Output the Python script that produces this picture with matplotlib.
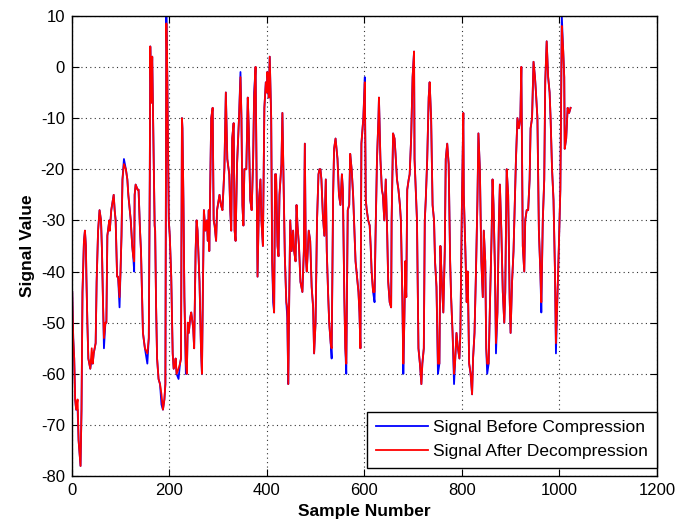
import numpy as np
import matplotlib
matplotlib.use("Agg")
import matplotlib.pyplot as plt

# sample positions and values
samples = [
    1, 3, 5, 7, 9, 12, 14, 18, 20, 22, 25, 27, 29, 30, 32, 34, 38, 41, 43, 45,
    49, 51, 54, 57, 60, 62, 64, 66, 69, 71, 73, 77, 78, 81, 86, 88, 90, 93, 95, 98,
    100, 102, 104, 107, 111, 114, 116, 121, 124, 126, 128, 129, 131, 135, 137, 140, 142, 144, 146, 150,
    155, 158, 160, 161, 163, 165, 168, 170, 171, 173, 175, 178, 181, 184, 187, 190, 192, 194, 196, 198,
    199, 201, 204, 207, 209, 212, 213, 215, 219, 222, 224, 226, 227, 229, 231, 234, 236, 238, 240, 243,
    245, 249, 251, 254, 256, 258, 262, 265, 267, 269, 271, 274, 277, 279, 281, 282, 286, 289, 291, 293,
    296, 298, 303, 306, 309, 313, 316, 319, 323, 325, 327, 329, 332, 334, 336, 339, 343, 346, 348, 350,
    352, 354, 358, 361, 363, 366, 369, 372, 374, 377, 379, 381, 384, 387, 389, 392, 395, 398, 400, 401,
    403, 404, 406, 409, 411, 413, 415, 417, 419, 422, 424, 426, 430, 432, 434, 437, 440, 442, 444, 446,
    448, 451, 454, 456, 459, 461, 463, 466, 469, 473, 476, 478, 480, 482, 484, 486, 489, 492, 495, 497,
    500, 503, 506, 508, 510, 512, 515, 518, 521, 523, 526, 528, 531, 533, 536, 538, 541, 545, 548, 551,
    554, 556, 559, 561, 563, 566, 569, 571, 574, 577, 579, 582, 585, 588, 590, 592, 594, 598, 601, 603,
    605, 608, 611, 613, 615, 618, 621, 623, 626, 629, 630, 633, 636, 638, 641, 644, 647, 649, 652, 655,
    656, 659, 662, 664, 667, 670, 673, 675, 678, 680, 682, 684, 686, 688, 691, 693, 696, 699, 702, 703,
    706, 708, 711, 714, 717, 719, 722, 724, 726, 729, 732, 734, 737, 740, 743, 745, 748, 751, 754, 756,
    759, 762, 765, 767, 770, 773, 776, 778, 781, 784, 786, 789, 792, 795, 797, 800, 803, 804, 807, 810,
    812, 815, 818, 821, 823, 826, 829, 832, 834, 837, 840, 843, 845, 848, 850, 852, 855, 858, 861, 863,
    865, 868, 870, 873, 876, 878, 881, 884, 887, 889, 892, 895, 898, 900, 903, 906, 909, 911, 914, 917,
    920, 922, 925, 928, 930, 933, 936, 939, 941, 944, 947, 950, 952, 955, 958, 961, 963, 966, 969, 971,
    974, 977, 980, 982, 985, 988, 991, 993, 996, 999, 1002, 1005, 1008, 1010, 1011, 1014, 1017, 1020, 1023,
]

before = [
    -44, -53, -57, -65, -67, -67, -73, -78, -67, -44, -34, -32, -35, -41, -50, -57, -59, -57, -58, -56,
    -54, -42, -32, -28, -30, -36, -46, -55, -50, -50, -33, -30, -32, -28, -25, -28, -30, -41, -41, -47,
    -40, -33, -22, -18, -20, -22, -25, -30, -35, -37, -40, -25, -23, -24, -24, -32, -36, -44, -52, -55,
    -58, -53, -22, 4, -7, 2, -18, -31, -32, -47, -57, -61, -62, -66, -67, -65, -62, 10, -2, -20,
    -30, -33, -41, -56, -59, -58, -57, -60, -61, -58, -57, -10, -12, -26, -45, -60, -60, -50, -52, -49,
    -48, -51, -55, -36, -30, -32, -42, -55, -60, -43, -28, -32, -30, -34, -28, -36, -10, -8, -30, -31,
    -34, -28, -25, -27, -28, -20, -5, -18, -21, -28, -32, -14, -11, -32, -34, -19, -10, -1, -10, -27,
    -31, -20, -20, -6, -12, -26, -28, -18, -5, 0, -20, -41, -26, -22, -30, -35, -8, -3, -5, -1,
    -3, -6, 2, -10, -38, -46, -48, -21, -21, -35, -37, -25, -19, -9, -20, -37, -46, -49, -62, -45,
    -30, -36, -32, -36, -38, -27, -31, -35, -42, -44, -36, -15, -37, -40, -36, -32, -34, -43, -47, -56,
    -50, -30, -21, -20, -20, -22, -29, -33, -22, -36, -45, -50, -54, -57, -25, -16, -14, -18, -25, -27,
    -21, -24, -45, -55, -60, -28, -27, -17, -20, -25, -30, -38, -41, -44, -48, -55, -15, -10, -2, -26,
    -28, -30, -31, -35, -40, -44, -46, -33, -18, -10, -6, -18, -24, -25, -30, -22, -33, -42, -46, -47,
    -30, -13, -14, -17, -22, -24, -27, -30, -45, -60, -50, -38, -45, -24, -22, -21, -14, -2, 3, -18,
    -25, -30, -55, -58, -62, -58, -55, -30, -26, -18, -6, -3, -10, -27, -30, -38, -43, -60, -58, -35,
    -42, -48, -36, -18, -15, -19, -38, -45, -52, -62, -58, -52, -55, -57, -52, -28, -9, -25, -35, -46,
    -40, -58, -60, -64, -57, -52, -40, -26, -13, -20, -38, -45, -32, -38, -55, -60, -58, -45, -33, -22,
    -27, -40, -56, -48, -30, -23, -32, -44, -50, -44, -20, -25, -45, -52, -42, -36, -25, -18, -10, -12,
    -10, 0, -35, -40, -30, -28, -28, -22, -12, -10, 1, -2, -5, -10, -32, -40, -48, -30, -22, -3,
    5, -2, -5, -10, -20, -26, -40, -56, -45, -35, -24, 10, 3, -2, -16, -14, -8, -9, -8,
]

# spots where the decompressed signal departs from the original
after_changes = {
    12: -65, 41: -55, 66: -53, 98: -45, 107: -19, 128: -38, 155: -56, 184: -64,
    194: 8.5, 219: -59, 234: -58, 346: -2, 374: -6, 413: -44, 442: -47, 533: -55,
    563: -58, 601: -3, 621: -44, 680: -58, 751: -58, 784: -60, 852: -58, 870: -54,
    963: -46, 993: -54, 1005: 8,
}

after = [after_changes.get(s, v) for s, v in zip(samples, before)]

plt.rcParams["font.family"] = ["Liberation Sans", "DejaVu Sans"]
plt.rcParams["axes.unicode_minus"] = False

fig = plt.figure(figsize=(6.9, 5.25), dpi=100)
ax = fig.add_axes([0.104, 0.093, 0.848, 0.877])

ax.plot(samples, before, color="blue", lw=1.3, label="Signal Before Compression")
ax.plot(samples, after, color="red", lw=1.3, label="Signal After Decompression")

ax.set_xlim(0, 1200)
ax.set_ylim(-80, 10)
ax.set_xticks(np.arange(0, 1201, 200))
ax.set_yticks(np.arange(-80, 11, 10))
ax.grid(True, color="#333333", linestyle=(0, (1, 3)), linewidth=0.8)
ax.tick_params(direction="in", top=True, right=True, labelsize=12, length=5, pad=5)
for sp in ax.spines.values():
    sp.set_linewidth(1.0)

ax.set_xlabel("Sample Number", fontsize=12.5, fontweight="bold", labelpad=4)
ax.set_ylabel("Signal Value", fontsize=12.5, fontweight="bold", labelpad=4)

leg = ax.legend(loc="lower right", bbox_to_anchor=(1.0, 0.018), fontsize=12.5,
                handlelength=3.0, handletextpad=0.3, borderpad=0.5, fancybox=False,
                edgecolor="black", framealpha=1, borderaxespad=0)
leg.get_frame().set_linewidth(1.0)

fig.savefig("out.png", dpi=100)
